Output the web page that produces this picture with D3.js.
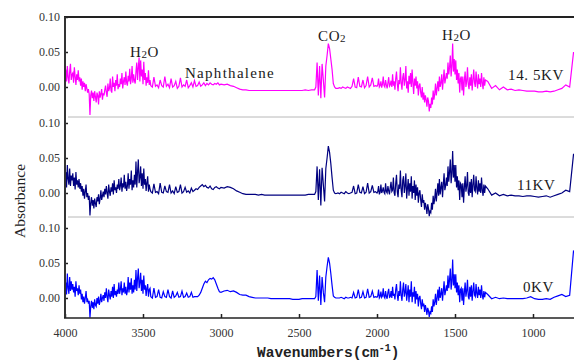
<!DOCTYPE html>
<html><head><meta charset="utf-8">
<script src="https://cdn.jsdelivr.net/npm/d3@7"></script>
<style>html,body{margin:0;padding:0;background:#fff;} svg{display:block;}</style>
</head><body><svg id="chart" width="574" height="360"></svg>
<script>
// Wavenumber sampling grid (cm^-1), one segment per spectral region
const wnA  = d3.range(4000, 3452, -5);
const wnB1 = d3.range(3450, 2995, -10);
const wnB2 = d3.range(2980, 2410, -20);
const wnC  = d3.range(2400, 2260, -8);
const wnD  = d3.range(2250, 2005, -10);
const wnE  = d3.range(2000, 1302, -5);
const wnF  = d3.range(1290, 730, -25);
const wavenumbers = [].concat(wnA, wnB1, wnB2, wnC, wnD, wnE, wnF);

// Absorbance values in milli-absorbance units
const abs14_5KV = [].concat(
  [12,25,8,30,14,5,22,33,10,18, 20,6,28,15,3,18,10,24,8,14, 2,12,-4,8,0,6,-6,4,-2,-8, -3,-10,-40,-12,-5,-16,-8,-20,-6,-14, -22,-8,-12,-25,-6,-15,-10,-3,-18,-9, -12,-4,2,-8,-14,5,-6,-2,12,-5, -8,15,0,6,-6,10,2,18,-3,4, 0,12,4,20,-2,8,14,3,22,6, 2,16,8,26,4,12,30,6,18,9, 5,22,35,10,28,42,8,38,15,25, 4,36,10,20,2,14,6,24,3,10],
  [2,0,14,1,3,-1,10,2,0,15, 1,4,-1,12,0,2,8,-2,1,13, 0,3,1,10,-1,2,6,0,9,1, 2,7,1,3,6,2,5,3,6,4, 3,5,4,6,3,4],
  [3,4,2,1,-1,-3,-4,-4,-5,-5, -5,-5,-5,-5,-5,-5,-5,-5,-5,-5, -5,-5,-5,-5,-5,-5,-4,-5,-4],
  [-4,0,35,-12,30,-16,33,10,-15,30,45,62,55,40,25,5,0,-2],
  [-2,-1,-2,0,-1,-2,0,-1,-2,1, 12,0,-1,14,1,0,10,-1,2,15, 0,3,13,1,2],
  [1,3,12,0,2,8,-1,4,15,2, 0,10,3,-2,6,14,1,3,9,0, 18,2,8,-4,12,22,5,-6,10,4, 28,6,-4,14,20,2,10,30,-2,8, -8,16,4,20,0,25,6,-10,12,2, 15,-2,8,-12,2,5,-8,-15,0,-18, -8,-22,-12,-18,-28,-15,-20,-35,-24,-30, -15,-25,-5,-18,-10,5,-12,-2,8,-6, 15,0,6,18,-4,10,25,5,12,20, 12,35,18,28,45,15,30,62,22,40, 18,38,10,25,5,20,-8,12,15,-5, 15,-12,10,22,0,8,28,4,-3,14, 2,18,-5,10,25,6,0,22,8,-2, 18,4,12,0,20,6,-3,14,2,10],
  [8,-2,2,-4,0,-4,-3,-5,-4,-5,-6,-6,-6,-7,-7,-6,-7,-6,-4,-2,3,0,50]
);
const abs11KV = [].concat(
  [15,30,8,40,20,12,35,10,25,18, 28,10,22,5,30,12,18,8,20,6, 14,2,10,-4,6,-8,2,12,-6,0, -10,-4,-32,-14,-6,-18,-10,-22,-8,-15, -20,-6,-12,-2,-16,-8,4,-10,-4,2, -6,6,-2,10,0,-8,12,2,-4,8, 2,14,-2,18,4,8,0,12,6,20, 4,10,22,2,14,8,26,6,16,3, 10,28,6,20,12,32,4,18,8,26, 12,45,8,30,48,14,22,38,10,28, 6,35,12,20,3,15,24,2,12,6],
  [2,0,13,1,2,-1,14,1,0,10, 2,1,12,0,3,-1,9,1,2,12, 0,2,8,1,3,0,7,2,4,6, 5,8,10,12,9,11,8,7,10,6, 5,8,9,7,6,8],
  [7,9,8,6,3,1,-1,-2,-2,-2, -2,-3,-2,-3,-3,-3,-3,-3,-3,-3, -3,-3,-3,-3,-3,-3,-3,-2,-2],
  [-2,2,38,-10,34,-18,36,12,-12,35,50,67,58,42,22,4,0,-1],
  [0,-1,1,0,-1,2,0,-1,0,1, 10,-1,0,12,1,0,9,-1,1,14, 0,2,11,1,2],
  [0,2,10,-2,1,12,0,3,8,1, -1,14,2,0,10,3,-2,8,16,2, 4,22,0,-4,14,26,2,-6,12,6, 32,4,-6,18,24,0,10,28,-8,6, 20,-4,14,2,24,-8,10,0,18,-10, 12,-4,8,-14,0,4,-10,-20,-2,-14, -10,-24,-14,-20,-30,-16,-22,-33,-26,-28, -14,-24,-4,-16,-8,6,-12,0,14,-4, 20,-2,8,16,-6,12,28,4,10,22, 10,38,16,30,48,14,28,60,22,40, 16,40,8,24,4,18,-10,14,12,-6, 14,-14,8,24,2,10,30,0,-4,16, 0,20,-6,12,26,4,2,24,6,-2, 18,2,14,0,22,4,-4,12,0,10],
  [6,-3,0,-4,-2,-4,-3,-4,-4,-5,-4,-4,-5,-6,-5,-4,-6,-4,-2,0,4,2,56]
);
const abs0KV = [].concat(
  [8,22,5,35,14,6,30,10,24,12, 20,8,16,2,24,10,14,4,18,6, 12,-2,6,-6,2,-8,0,10,-4,-2, -8,-4,-28,-12,-4,-14,-6,-16,-2,-10, -12,0,-8,2,-10,-4,6,-6,0,4, -4,8,0,14,2,-6,12,4,-2,10, 2,16,0,20,4,10,2,12,6,22, 6,12,24,4,14,8,22,6,16,4, 10,30,8,22,12,28,6,18,8,26, 12,40,10,28,42,14,22,36,10,26, 6,32,12,18,3,14,20,2,12,14],
  [2,0,14,1,2,12,1,0,9,2, 1,12,2,0,10,1,3,8,1,2, 10,1,2,7,1,2,8,1,2,2, 2,4,8,14,20,24,22,26,28,27, 29,26,20,14,9,8],
  [10,11,9,10,8,5,4,4,2,1, 0,0,0,0,0,-1,-1,-1,-1,-1, -1,-1,-2,-2,-2,-1,-1,-1,-1],
  [-1,2,40,-4,32,-10,30,8,-6,30,45,58,50,35,18,3,1,0],
  [0,0,1,0,-1,1,0,0,1,0, 8,0,1,12,0,1,9,0,1,13, 1,2,10,1,2],
  [1,3,12,0,2,9,1,3,14,2, 0,10,2,-1,8,13,1,2,10,0, 16,3,6,-2,12,20,4,-4,10,3, 24,4,-4,12,22,2,8,20,-4,6, 18,-6,12,2,24,-6,8,2,16,-8, 10,-2,6,-12,0,3,-8,-16,-2,-12, -8,-20,-10,-16,-24,-14,-18,-27,-20,-22, -12,-20,-2,-12,-6,6,-10,0,12,-4, 16,0,6,14,-4,10,24,4,10,18, 10,32,14,26,42,12,24,55,18,34, 14,34,8,22,4,18,-6,12,14,-4, 14,-10,8,22,2,10,26,2,-2,16, 2,18,-4,10,22,4,2,20,6,0, 16,4,12,0,18,4,-2,10,1,8],
  [5,-1,1,-1,0,-1,-1,-1,-1,-1,0,2,-1,-2,-2,-1,-2,1,3,5,2,4,68]
);

const seriesNames = ["14.5KV", "11KV", "0KV"];
const seriesValues = [abs14_5KV, abs11KV, abs0KV];
const seriesColors = ["#ff00ff", "#000080", "#0000ff"];
const yTicks = [0, 0.05, 0.10];
const xTicks = [4000, 3500, 3000, 2500, 2000, 1500, 1000];
// annotations: [text, subscript, rest, wavenumber, absorbance, panel]
const annotations = [
  ["H", "2", "O", 3583, 0.043, 0],
  ["Naphthalene", "", "", 3231, 0.013, 0],
  ["CO", "2", "", 2378, 0.066, 0],
  ["H", "2", "O", 1583, 0.067, 0],
  ["14. 5KV", "", "", 1160, 0.010, 0],
  ["11KV", "", "", 1103, 0.004, 1],
  ["0KV", "", "", 1064, 0.009, 2]
];

// layout
const left = 65, plotRight = 574, plotTop = 17, plotBottom = 318;
const panelTops = [17, 123, 228];
const panelH = 70; // pixel height of 0.10 absorbance
const separators = [117, 217];

const svg = d3.select("#chart");
const x = d3.scaleLinear().domain([4000, 1000]).range([65, 533]);

svg.append("defs").append("clipPath").attr("id", "clip")
  .append("rect").attr("x", left).attr("y", 0).attr("width", plotRight - left).attr("height", plotBottom);

const serif = "'Liberation Serif','Times New Roman',serif";

separators.forEach(s => {
  svg.append("line").attr("x1", left + 3).attr("x2", plotRight).attr("y1", s).attr("y2", s)
    .attr("stroke", "#b8b8b8").attr("stroke-width", 1);
});

const yScales = panelTops.map(t => d3.scaleLinear().domain([0, 0.1]).range([t + panelH, t]));

seriesValues.forEach((vals, i) => {
  const y = yScales[i];
  const data = wavenumbers.map((w, k) => ({wn: w, v: vals[k]})).filter(d => d.v !== undefined);
  const line = d3.line().x(d => x(d.wn)).y(d => y(d.v / 1000));
  svg.append("path").datum(data).attr("d", line)
    .attr("fill", "none").attr("stroke", seriesColors[i]).attr("stroke-width", 1.2)
    .attr("clip-path", "url(#clip)");

  const ax = svg.append("g").attr("transform", `translate(${left},0)`)
    .call(d3.axisLeft(y).tickValues(yTicks).tickFormat(d3.format(".2f")).tickSizeInner(-3).tickSizeOuter(0).tickPadding(5));
  ax.select(".domain").remove();
  ax.selectAll("line").attr("stroke", "#222").attr("stroke-width", 1.5);
  ax.selectAll("text").attr("font-family", serif).attr("font-size", 12).attr("fill", "#333");
});

const xa = svg.append("g").attr("transform", `translate(0,${plotBottom})`)
  .call(d3.axisBottom(x).tickValues(xTicks).tickFormat(d3.format("d")).tickSizeInner(-4).tickSizeOuter(0).tickPadding(10));
xa.select(".domain").remove();
xa.selectAll("line").attr("stroke", "#222").attr("stroke-width", 1.5);
xa.selectAll("text").attr("font-family", serif).attr("font-size", 12).attr("fill", "#333");

svg.append("line").attr("x1", left - 1).attr("x2", plotRight).attr("y1", plotTop).attr("y2", plotTop).attr("stroke", "#222").attr("stroke-width", 2);
svg.append("line").attr("x1", left).attr("x2", left).attr("y1", plotTop).attr("y2", plotBottom).attr("stroke", "#333").attr("stroke-width", 2);
svg.append("line").attr("x1", left - 1).attr("x2", plotRight).attr("y1", plotBottom).attr("y2", plotBottom).attr("stroke", "#222").attr("stroke-width", 1.5);

annotations.forEach(a => {
  const y = yScales[a[5]];
  const t = svg.append("text").attr("x", x(a[3])).attr("y", y(a[4]))
    .attr("font-family", serif).attr("font-size", 15).attr("fill", "#1a1a1a")
    .attr("letter-spacing", a[0] === "Naphthalene" ? 1.3 : 0.6);
  t.append("tspan").text(a[0]);
  if (a[1]) t.append("tspan").attr("font-size", 11).attr("dy", 1).text(a[1]);
  if (a[2]) t.append("tspan").attr("dy", -1).text(a[2]);
});

svg.append("text").attr("transform", "translate(25,201) rotate(-90)").attr("text-anchor", "middle")
  .attr("font-family", serif).attr("font-size", 15.5).attr("fill", "#222").text("Absorbance");

const xt = svg.append("text").attr("x", 257).attr("y", 357)
  .attr("font-family", "'Liberation Mono','DejaVu Sans Mono',monospace").attr("font-weight", "bold")
  .attr("font-size", 14.5).attr("fill", "#222");
xt.append("tspan").text("Wavenumbers(cm");
xt.append("tspan").attr("font-size", 10).attr("dy", -6).text("-1");
xt.append("tspan").attr("dy", 6).text(")");
</script>
</body></html>
